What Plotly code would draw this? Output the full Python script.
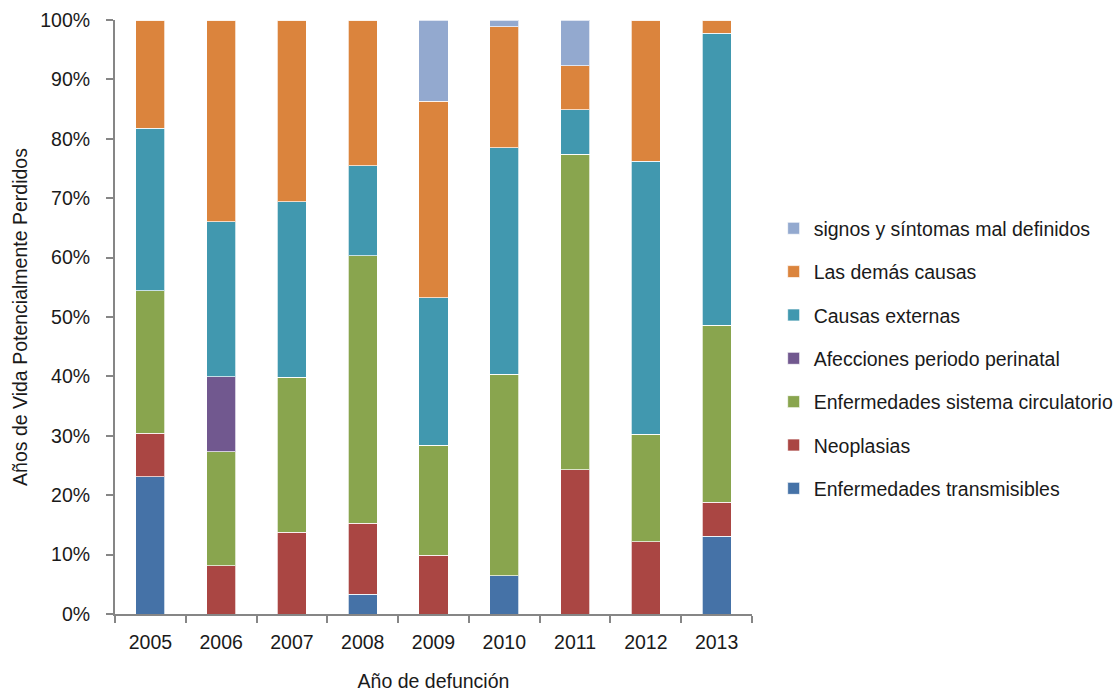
import plotly.graph_objects as go

years = ["2005", "2006", "2007", "2008", "2009", "2010", "2011", "2012", "2013"]

transmisibles = [23.1, 0, 0, 3.3, 0, 6.45, 0, 0, 13.1]
neoplasias = [7.3, 8.1, 13.75, 12.0, 9.9, 0, 24.3, 12.2, 5.75]
circulatorio = [24.0, 19.2, 26.1, 45.0, 18.5, 33.9, 53.1, 18.05, 29.8]
perinatal = [0, 12.6, 0, 0, 0, 0, 0, 0, 0]
externas = [27.4, 26.1, 29.55, 15.2, 24.8, 38.15, 7.45, 45.95, 49.1]
demas = [18.2, 34.0, 30.6, 24.5, 33.1, 20.4, 7.45, 23.8, 2.25]
signos = [0, 0, 0, 0, 13.7, 1.1, 7.7, 0, 0]

series = [
    ("Enfermedades transmisibles", transmisibles, "#4572A7"),
    ("Neoplasias", neoplasias, "#AA4643"),
    ("Enfermedades sistema circulatorio", circulatorio, "#89A54E"),
    ("Afecciones periodo perinatal", perinatal, "#71588F"),
    ("Causas externas", externas, "#4198AF"),
    ("Las demás causas", demas, "#DB843D"),
    ("signos y síntomas mal definidos", signos, "#93A9CF"),
]

fig = go.Figure()
n = len(series)
for i, (name, vals, col) in enumerate(series):
    fig.add_trace(go.Bar(
        x=years, y=vals, name=name, legendgroup=str(i), legendrank=n - i,
        marker=dict(color=col, line=dict(color="rgba(255,255,255,0.7)", width=1)),
    ))

font = "Liberation Sans, Arial, sans-serif"
axcol = "#868686"
fs = 19.5
fig.update_layout(
    width=1119, height=692,
    barmode="stack", bargap=0.59,
    plot_bgcolor="white", paper_bgcolor="white",
    margin=dict(l=115, r=367, t=20, b=78, autoexpand=False),
    font=dict(family=font, size=fs, color="#1a1a1a"),
    legend=dict(x=1.034, xanchor="left", y=0.43, yanchor="middle",
                traceorder="grouped", tracegroupgap=15,
                font=dict(size=fs), itemwidth=30),
    xaxis=dict(
        showline=True, linecolor=axcol, linewidth=2,
        ticks="outside", tickson="boundaries", ticklen=7, tickcolor=axcol, tickwidth=2,
        ticklabelstandoff=10,
        title=dict(text="Año de defunción", font=dict(size=fs), standoff=24),
        automargin=False,
    ),
    yaxis=dict(
        range=[0, 100], tickvals=[0, 10, 20, 30, 40, 50, 60, 70, 80, 90, 100],
        ticktext=[f"{v}%" for v in range(0, 101, 10)],
        showline=True, linecolor=axcol, linewidth=2, showgrid=False, zeroline=False,
        ticks="outside", ticklen=7, tickcolor=axcol, tickwidth=2,
        ticklabelstandoff=12,
        title=dict(text="Años de Vida Potencialmente Perdidos", font=dict(size=fs), standoff=7),
        automargin=False,
    ),
)

fig.write_html("out.html")
